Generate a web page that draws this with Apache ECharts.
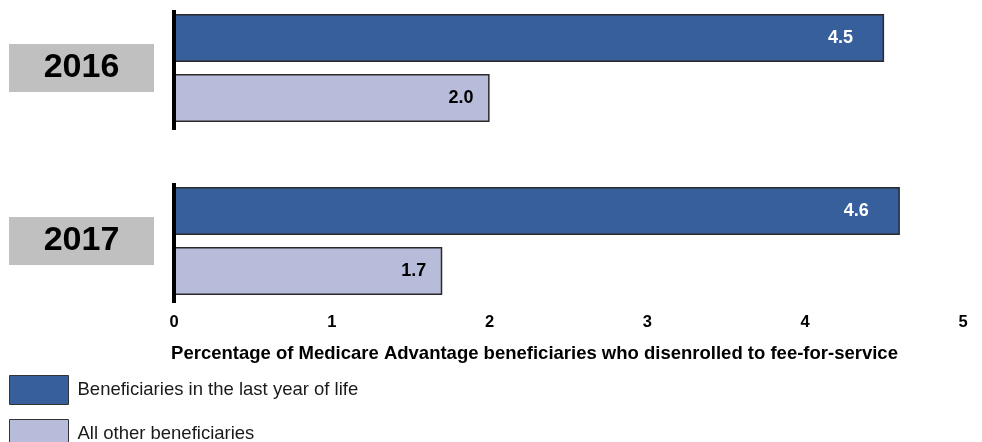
<!DOCTYPE html>
<html><head><meta charset="utf-8">
<script src="https://cdn.jsdelivr.net/npm/echarts@6/dist/echarts.min.js"></script>
<style>html,body{margin:0;padding:0;background:#fff}#c{width:982px;height:442px}</style>
</head><body><div id="c"></div>
<script>
const years = ['2016', '2017'];
const seriesNames = ['Beneficiaries in the last year of life', 'All other beneficiaries'];
const lastYearOfLife = [4.5, 4.6];
const allOther = [2.0, 1.7];
const xTicks = [0, 1, 2, 3, 4, 5];
const axisTitle = 'Percentage of Medicare Advantage beneficiaries who disenrolled to fee-for-service';

const FONT = '"Liberation Sans", Arial, sans-serif';
const chart = echarts.init(document.getElementById('c'));
chart.setOption({
  animation: false,
  textStyle: { fontFamily: FONT },
  grid: { left: 174, right: 19, top: -18.5, bottom: 114.5, outerBoundsMode: 'none', containLabel: false },
  xAxis: {
    type: 'value', min: xTicks[0], max: xTicks[xTicks.length - 1], interval: 1,
    offset: -14,
    axisLine: { show: false }, axisTick: { show: false }, splitLine: { show: false },
    axisLabel: { color: '#000', fontWeight: 'bold', fontSize: 16.5, margin: 0, fontFamily: FONT },
    name: axisTitle, nameLocation: 'middle', nameGap: 31,
    nameTextStyle: { color: '#000', fontWeight: 'bold', fontSize: 18.5, fontFamily: FONT, padding: [0, 68, 0, 0] }
  },
  yAxis: {
    type: 'category', data: years, inverse: true,
    axisLine: { show: false }, axisTick: { show: false },
    axisLabel: {
      align: 'center', margin: 92.5, width: 145, height: 48, lineHeight: 48,
      backgroundColor: '#c0c0c0', color: '#000', fontWeight: 'bold', fontSize: 34, fontFamily: FONT
    }
  },
  legend: {
    orient: 'vertical', left: 9, top: 375, height: 120, itemWidth: 59, itemHeight: 29, itemGap: 14,
    icon: 'rect', data: seriesNames, padding: 0,
    textStyle: { fontSize: 18.5, color: '#1a1a1a', fontFamily: FONT, padding: [0, 0, 0, 4] },
    itemStyle: { borderColor: '#333', borderWidth: 1 }
  },
  series: [
    {
      name: seriesNames[0], type: 'bar', data: lastYearOfLife, barWidth: 48, barGap: '25%',
      itemStyle: { color: '#375f9b', borderColor: '#2a2a2a', borderWidth: 1.5 },
      label: { show: true, position: 'insideRight', distance: 31, color: '#fff', fontWeight: 'bold', fontSize: 18,
        formatter: p => p.value.toFixed(1) }
    },
    {
      name: seriesNames[1], type: 'bar', data: allOther, barWidth: 48, barGap: '25%',
      itemStyle: { color: '#b8bcdb', borderColor: '#2a2a2a', borderWidth: 1.5 },
      label: { show: true, position: 'insideRight', distance: 16, color: '#000', fontWeight: 'bold', fontSize: 18,
        formatter: p => p.value.toFixed(1) }
    },
    {
      type: 'custom', z: 10, silent: true,
      data: years.map(y => [0, y]),
      encode: { x: 0, y: 1 },
      renderItem: (params, api) => {
        const p = api.coord([api.value(0), api.value(1)]);
        return { type: 'line', shape: { x1: p[0], y1: p[1] - 58, x2: p[0], y2: p[1] + 62 },
          style: { stroke: '#000', lineWidth: 4 } };
      }
    }
  ]
});
</script></body></html>
